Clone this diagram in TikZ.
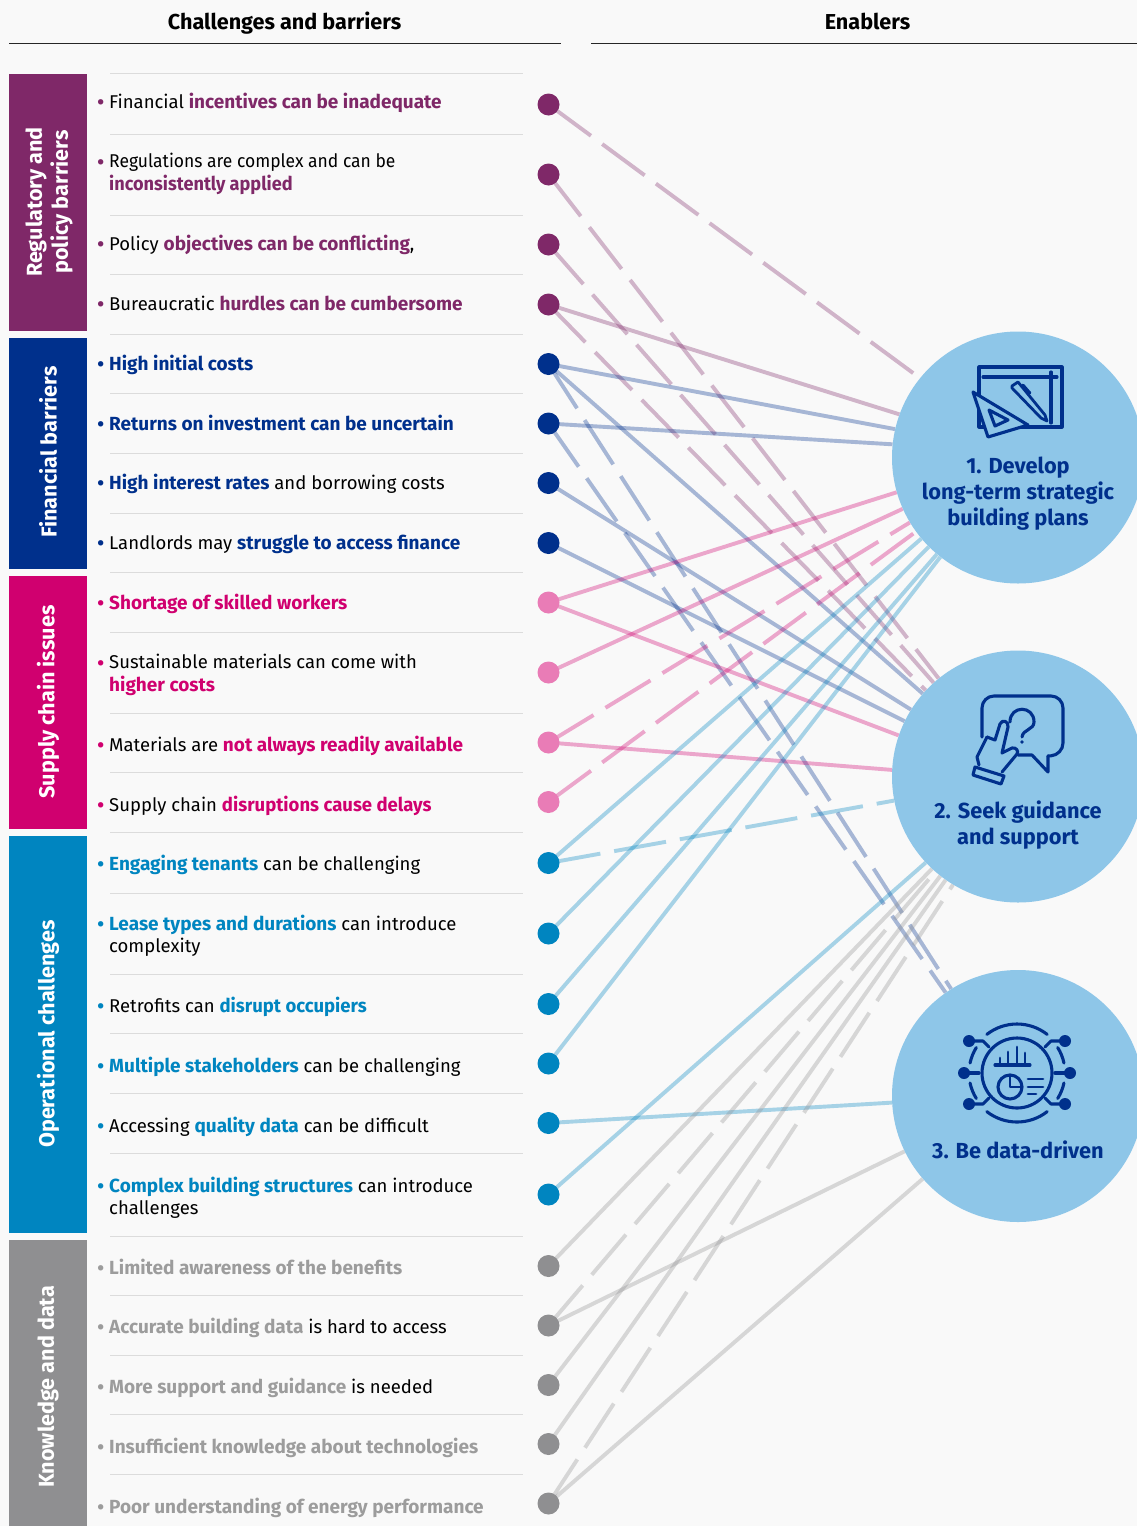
\documentclass[tikz,border=0pt]{standalone}
\usepackage{fontspec}
\setmainfont{Fira Sans}
\pgfdeclarelayer{lines}
\pgfsetlayers{lines,main}
\definecolor{cpur}{HTML}{7F2868}
\definecolor{cnav}{HTML}{00308C}
\definecolor{cpin}{HTML}{D0006F}
\definecolor{cpinl}{HTML}{E97CB6}
\definecolor{cblu}{HTML}{0085C0}
\definecolor{cgry}{HTML}{8F8F91}
\definecolor{cgrt}{HTML}{9C9C9C}
\definecolor{ccir}{HTML}{8EC6E8}
\definecolor{cbg}{HTML}{F9F9F9}
\definecolor{csep}{HTML}{DCDCDC}
\tikzset{
  x=1pt,y=-1pt,
  dotnode/.style={circle,minimum size=22pt,inner sep=0pt,fill=#1},
  barbox/.style={anchor=north west,inner sep=0pt,fill=#1,minimum width=78pt},
  barlabel/.style={rotate=90,text=white,font=\fontsize{21.6}{26}\selectfont\bfseries,align=center,inner sep=0pt},
  rowtext/.style={anchor=west,inner sep=0pt,yshift=-2pt,align=left,font=\fontsize{18.5}{22}\selectfont},
  rowbullet/.style={inner sep=0pt,yshift=-3pt,font=\fontsize{24}{24}\selectfont},
  headtext/.style={inner sep=0pt,anchor=base,font=\fontsize{21.6}{24}\selectfont\bfseries},
  enabler/.style={circle,minimum size=252pt,inner sep=0pt,fill=ccir},
  enabtext/.style={inner sep=0pt,text=cnav,align=center,font=\fontsize{21.8}{26}\selectfont\bfseries},
  conn/.style={line width=3.9pt,draw=#1,opacity=.33},
  broken/.style={dash pattern=on 52.7pt off 14pt},
  ico/.style={draw=cnav,line width=3.1pt,line join=round,line cap=round},
  seprule/.style={draw=csep,line width=1pt},
  headrule/.style={draw=black!85,line width=1pt}
}
\newcommand{\rowitem}[5]{%
  \node[rowbullet,text=#4] (b#1) at (100.7,#2) {•};
  \node[rowtext] (t#1) at (109,#3) {#5};}
\newcommand{\hi}[2]{\textcolor{#1}{\fontsize{19}{22}\selectfont\bfseries #2}}
\newcommand{\iconarc}[5]{\draw[ico] ({#1+#3*cos(#4)},{#2-#3*sin(#4)}) arc[start angle=#4,end angle=#5,radius=#3 pt];}
\begin{document}
\begin{tikzpicture}
\useasboundingbox (0,0) rectangle (1137,1526);
\clip (0,0) rectangle (1137,1526);
\begin{pgfonlayer}{lines}
\fill[cbg] (0,0) rectangle (1137,1526);
\end{pgfonlayer}
% headers
\node[headtext] (h1) at (284.5,29) {Challenges and barriers};
\node[headtext] (h2) at (867.5,29) {Enablers};
\draw[headrule] (9,43) -- (561,43);
\draw[headrule] (591,43) -- (1137,43);
% bars
\node[barbox=cpur,minimum height=257pt] (s1) at (9,74) {};
\node[barbox=cnav,minimum height=231pt] (s2) at (9,338) {};
\node[barbox=cpin,minimum height=253pt] (s3) at (9,576) {};
\node[barbox=cblu,minimum height=397pt] (s4) at (9,836) {};
\node[barbox=cgry,minimum height=286pt] (s5) at (9,1240) {};
\node[barlabel] (l1) at (49,202) {Regulatory and\\policy barriers};
\node[barlabel] (l2) at (48,452) {Financial barriers};
\node[barlabel] (l3) at (48,702) {Supply chain issues};
\node[barlabel] (l4) at (48,1034) {Operational challenges};
\node[barlabel] (l5) at (48,1387) {Knowledge and data};
% separators
\foreach \yy in {73,134,215,274,334,393,453,513,572,632,713,772,832,893,974,1033,1093,1153,1236,1295,1355,1414,1474}
  \draw[seprule] (110,\yy) -- (523,\yy);
% rows
\rowitem{1}{102}{102}{cpur}{\strut Financial \hi{cpur}{incentives can be inadequate}}
\rowitem{2}{162}{173}{cpur}{\strut\scalebox{.945}[1]{Regulations are complex and can be}\\\strut\scalebox{.955}[1]{\hi{cpur}{inconsistently applied}}}
\rowitem{3}{244}{244}{cpur}{\strut Policy \hi{cpur}{objectives can be conflicting},}
\rowitem{4}{304}{304}{cpur}{\strut Bureaucratic \hi{cpur}{hurdles can be cumbersome}}
\rowitem{5}{364}{364}{cnav}{\strut\hi{cnav}{High initial costs}}
\rowitem{6}{424}{424}{cnav}{\strut\hi{cnav}{Returns on investment can be uncertain}}
\rowitem{7}{483}{483}{cnav}{\strut\hi{cnav}{High interest rates} and borrowing costs}
\rowitem{8}{543}{543}{cnav}{\strut Landlords may \hi{cnav}{struggle to access finance}}
\rowitem{9}{603}{603}{cpin}{\strut\hi{cpin}{Shortage of skilled workers}}
\rowitem{10}{663}{674}{cpin}{\strut Sustainable materials can come with\\\strut\hi{cpin}{higher costs}}
\rowitem{11}{745}{745}{cpin}{\strut Materials are \hi{cpin}{not always readily available}}
\rowitem{12}{805}{805}{cpin}{\strut Supply chain \scalebox{.975}[1]{\hi{cpin}{disruptions cause delays}}}
\rowitem{13}{864}{864}{cblu}{\strut\hi{cblu}{Engaging tenants} can be challenging}
\rowitem{14}{924}{935}{cblu}{\strut\hi{cblu}{Lease types and durations} can introduce\\\strut complexity}
\rowitem{15}{1006}{1006}{cblu}{\strut Retrofits can \scalebox{.975}[1]{\hi{cblu}{disrupt occupiers}}}
\rowitem{16}{1066}{1066}{cblu}{\strut\hi{cblu}{Multiple stakeholders} can be challenging}
\rowitem{17}{1126}{1126}{cblu}{\strut Accessing \hi{cblu}{quality data} can be difficult}
\rowitem{18}{1186}{1197}{cblu}{\strut\hi{cblu}{Complex building structures} can introduce\\\strut challenges}
\rowitem{19}{1268}{1268}{cgrt}{\strut\hi{cgrt}{Limited awareness of the benefits}}
\rowitem{20}{1327}{1327}{cgrt}{\strut\hi{cgrt}{Accurate building data} is hard to access}
\rowitem{21}{1387}{1387}{cgrt}{\strut\hi{cgrt}{More support and guidance} is needed}
\rowitem{22}{1447}{1447}{cgrt}{\strut\hi{cgrt}{Insufficient knowledge about technologies}}
\rowitem{23}{1507}{1507}{cgrt}{\strut\hi{cgrt}{Poor understanding of energy performance}}
% dots
\foreach \nn/\yy/\cc in {1/104.5/cpur,2/174.5/cpur,3/244.5/cpur,4/304.5/cpur,5/364/cnav,6/423.5/cnav,7/483/cnav,8/543/cnav,9/602.5/cpinl,10/672.5/cpinl,11/742.5/cpinl,12/802/cpinl,13/863/cblu,14/933.5/cblu,15/1004/cblu,16/1063.5/cblu,17/1123/cblu,18/1194.5/cblu,19/1266/cgry,20/1325.5/cgry,21/1385/cgry,22/1444/cgry,23/1503.5/cgry}
  \node[dotnode=\cc] (d\nn) at (548.5,\yy) {};
% enablers
\node[enabler] (c1) at (1018,457.5) {};
\node[enabler] (c2) at (1018,776.5) {};
\node[enabler] (c3) at (1018,1096) {};
\node[enabtext] (e1) at (1018,493.5) {1. Develop\\long-term strategic\\building plans};
\node[enabtext] (e2) at (1018,825) {2. Seek guidance\\and support};
\node[enabtext] (e3) at (1018,1150) {3. Be data-driven};
% connectors
\begin{pgfonlayer}{lines}
\draw[conn=cpur,broken] (d1.center) -- (c1.141.5);
\draw[conn=cpur,broken] (d2.center) -- (c2.129);
\draw[conn=cpur,broken] (d3.center) -- (c2.132.7);
\draw[conn=cpur] (d4.center) -- (c1.160.7);
\draw[conn=cpur,broken] (d4.center) -- (c2.137);
\draw[conn=cnav] (d5.center) -- (c1.167);
\draw[conn=cnav] (d5.center) -- (c2.139.5);
\draw[conn=cnav,broken] (d5.center) -- (c3.122);
\draw[conn=cnav] (d6.center) -- (c1.174.5);
\draw[conn=cnav,broken] (d6.center) -- (c3.125);
\draw[conn=cnav] (d7.center) -- (c2.148.6);
\draw[conn=cnav] (d8.center) -- (c2.154.9);
\draw[conn=cpin] (d9.center) -- (c1.196.6);
\draw[conn=cpin] (d9.center) -- (c2.161);
\draw[conn=cpin] (d10.center) -- (c1.204);
\draw[conn=cpin,broken] (d11.center) -- (c1.211);
\draw[conn=cpin] (d11.center) -- (c2.177);
\draw[conn=cpin,broken] (d12.center) -- (c1.216);
\draw[conn=cblu] (d13.center) -- (c1.220.5);
\draw[conn=cblu,broken] (d13.center) -- (c2.191.5);
\draw[conn=cblu] (d14.center) -- (c1.225);
\draw[conn=cblu] (d15.center) -- (c1.230);
\draw[conn=cblu] (d16.center) -- (c1.232.7);
\draw[conn=cblu] (d17.center) -- (c3.183);
\draw[conn=cblu] (d18.center) -- (c2.223);
\draw[conn=cgry] (d19.center) -- (c2.227);
\draw[conn=cgry,broken] (d20.center) -- (c2.229);
\draw[conn=cgry] (d20.center) -- (c3.206.4);
\draw[conn=cgry] (d21.center) -- (c2.232.3);
\draw[conn=cgry] (d22.center) -- (c2.235.5);
\draw[conn=cgry,broken] (d23.center) -- (c2.239);
\draw[conn=cgry] (d23.center) -- (c3.221.5);
\end{pgfonlayer}
% icon 1
\draw[ico] (979,367) rectangle (1062,427);
\draw[ico] (983,377) -- (1057,377);
\draw[ico] (1051,372) -- (1051,423);
\draw[ico,fill=ccir] (973,392) -- (988,437) -- (1028,425) -- cycle;
\draw[ico] (989,410) -- (995,426) -- (1008,420) -- cycle;
\draw[ico,line width=2.8pt] (1012,386) -- (1018,382) -- (1045,415) -- (1047,421) -- (1041,418) -- (1012,388) -- cycle;
\draw[ico,line width=2.8pt] (1023,385) -- (1030,393);
% icon 2
\draw[ico,rounded corners=12pt] (982,737) -- (982,696) -- (1063,696) -- (1063,755) -- (1048,756);
\draw[ico] (1048,756) -- (1048,772) -- (1032,755) -- (1018,755);
\draw[ico] (987,737) -- (995,740) -- (1000,724) .. controls (1002,719) and (1009,721) .. (1008,727) -- (1002,753) -- (1012,748) .. controls (1016,747) and (1019,751) .. (1017,754) -- (1002,772);
\draw[ico] (987,737) -- (977,757) -- (979,765);
\draw[ico] (975,767) -- (1004,776) -- (1001,784) -- (973,775) -- cycle;
\draw[ico] (1010,722) .. controls (1010,705) and (1034,705) .. (1034,722) .. controls (1034,730) and (1023,729) .. (1022,737);
\fill[cnav] (1022,742) circle[radius=1.8pt];
% icon 3
\iconarc{1017}{1073}{35}{0}{360}
\iconarc{1017}{1073}{49}{52}{128}
\iconarc{1017}{1073}{49}{232}{308}
\iconarc{1017}{1073}{48}{148}{168}
\iconarc{1017}{1073}{48}{192}{212}
\iconarc{1017}{1073}{48}{12}{32}
\iconarc{1017}{1073}{48}{328}{348}
\foreach \px/\py in {969/1041,964/1073,969/1104,1065/1041,1070/1073,1065/1104}
  \fill[cnav] (\px,\py) circle[radius=6pt];
\draw[ico] (969,1041) -- (983,1041) -- (989,1047);
\draw[ico] (964,1073) -- (979,1073);
\draw[ico] (969,1104) -- (983,1104) -- (989,1098);
\draw[ico] (1065,1041) -- (1051,1041) -- (1045,1047);
\draw[ico] (1070,1073) -- (1055,1073);
\draw[ico] (1065,1104) -- (1051,1104) -- (1045,1098);
\draw[ico] (995,1065) -- (1030,1065);
\draw[ico,line width=2.8pt] (1000,1065) -- (1000,1058) (1008,1065) -- (1008,1052) (1017,1065) -- (1017,1047) (1025,1065) -- (1025,1053);
\iconarc{1010}{1087}{12}{0}{360}
\draw[ico,line width=2.8pt] (1010,1075) -- (1010,1087) -- (1022,1087);
\draw[ico,line width=2.8pt] (1028,1079) -- (1043,1079) (1028,1087) -- (1043,1087) (1028,1094) -- (1036,1094);
\end{tikzpicture}
\end{document}
